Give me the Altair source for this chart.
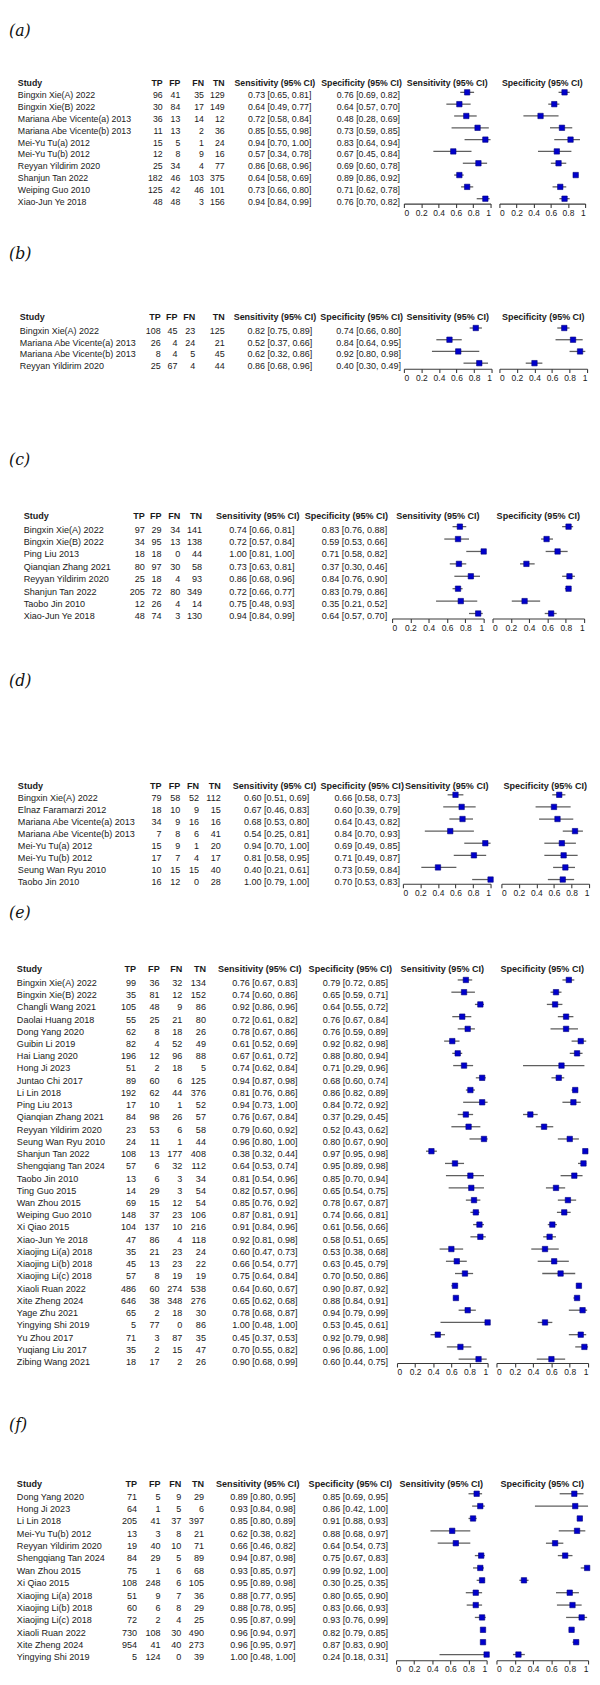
import altair as alt
import pandas as pd

FONT = "Liberation Sans"

# ---------------- data ----------------
A_STUDY = ["Bingxin Xie(A) 2022", "Bingxin Xie(B) 2022", "Mariana Abe Vicente(a) 2013",
           "Mariana Abe Vicente(b) 2013", "Mei-Yu Tu(a) 2012", "Mei-Yu Tu(b) 2012",
           "Reyyan Yildirim 2020", "Shanjun Tan 2022", "Weiping Guo 2010", "Xiao-Jun Ye 2018"]
A_TP = [96, 30, 36, 11, 15, 12, 25, 182, 125, 48]
A_FP = [41, 84, 13, 13, 5, 8, 34, 46, 42, 48]
A_FN = [35, 17, 14, 2, 1, 9, 4, 103, 46, 3]
A_TN = [129, 149, 12, 36, 24, 16, 77, 375, 101, 156]
A_SENS = [(0.73, 0.65, 0.81), (0.64, 0.49, 0.77), (0.72, 0.58, 0.84), (0.85, 0.55, 0.98),
          (0.94, 0.70, 1.00), (0.57, 0.34, 0.78), (0.86, 0.68, 0.96), (0.64, 0.58, 0.69),
          (0.73, 0.66, 0.80), (0.94, 0.84, 0.99)]
A_SPEC = [(0.76, 0.69, 0.82), (0.64, 0.57, 0.70), (0.48, 0.28, 0.69), (0.73, 0.59, 0.85),
          (0.83, 0.64, 0.94), (0.67, 0.45, 0.84), (0.69, 0.60, 0.78), (0.89, 0.86, 0.92),
          (0.71, 0.62, 0.78), (0.76, 0.70, 0.82)]

B_STUDY = ["Bingxin Xie(A) 2022", "Mariana Abe Vicente(a) 2013", "Mariana Abe Vicente(b) 2013",
           "Reyyan Yildirim 2020"]
B_TP = [108, 26, 8, 25]
B_FP = [45, 4, 4, 67]
B_FN = [23, 24, 5, 4]
B_TN = [125, 21, 45, 44]
B_SENS = [(0.82, 0.75, 0.89), (0.52, 0.37, 0.66), (0.62, 0.32, 0.86), (0.86, 0.68, 0.96)]
B_SPEC = [(0.74, 0.66, 0.80), (0.84, 0.64, 0.95), (0.92, 0.80, 0.98), (0.40, 0.30, 0.49)]

C_STUDY = ["Bingxin Xie(A) 2022", "Bingxin Xie(B) 2022", "Ping Liu  2013", "Qianqian Zhang 2021",
           "Reyyan Yildirim 2020", "Shanjun Tan 2022", "Taobo Jin 2010", "Xiao-Jun Ye 2018"]
C_TP = [97, 34, 18, 80, 25, 205, 12, 48]
C_FP = [29, 95, 18, 97, 18, 72, 26, 74]
C_FN = [34, 13, 0, 30, 4, 80, 4, 3]
C_TN = [141, 138, 44, 58, 93, 349, 14, 130]
C_SENS = [(0.74, 0.66, 0.81), (0.72, 0.57, 0.84), (1.00, 0.81, 1.00), (0.73, 0.63, 0.81),
          (0.86, 0.68, 0.96), (0.72, 0.66, 0.77), (0.75, 0.48, 0.93), (0.94, 0.84, 0.99)]
C_SPEC = [(0.83, 0.76, 0.88), (0.59, 0.53, 0.66), (0.71, 0.58, 0.82), (0.37, 0.30, 0.46),
          (0.84, 0.76, 0.90), (0.83, 0.79, 0.86), (0.35, 0.21, 0.52), (0.64, 0.57, 0.70)]

D_STUDY = ["Bingxin Xie(A) 2022", "Elnaz Faramarzi 2012", "Mariana Abe Vicente(a) 2013",
           "Mariana Abe Vicente(b) 2013", "Mei-Yu Tu(a) 2012", "Mei-Yu Tu(b) 2012",
           "Seung Wan Ryu 2010", "Taobo Jin  2010"]
D_TP = [79, 18, 34, 7, 15, 17, 10, 16]
D_FP = [58, 10, 9, 8, 9, 7, 15, 12]
D_FN = [52, 9, 16, 6, 1, 4, 15, 0]
D_TN = [112, 15, 16, 41, 20, 17, 40, 28]
D_SENS = [(0.60, 0.51, 0.69), (0.67, 0.46, 0.83), (0.68, 0.53, 0.80), (0.54, 0.25, 0.81),
          (0.94, 0.70, 1.00), (0.81, 0.58, 0.95), (0.40, 0.21, 0.61), (1.00, 0.79, 1.00)]
D_SPEC = [(0.66, 0.58, 0.73), (0.60, 0.39, 0.79), (0.64, 0.43, 0.82), (0.84, 0.70, 0.93),
          (0.69, 0.49, 0.85), (0.71, 0.49, 0.87), (0.73, 0.59, 0.84), (0.70, 0.53, 0.83)]

E_STUDY = ["Bingxin Xie(A) 2022", "Bingxin Xie(B) 2022", "Changli Wang 2021", "Daolai Huang 2018",
           "Dong Yang 2020", "Guibin Li 2019", "Hai Liang  2020", "Hong Ji 2023", "Juntao Chi 2017",
           "Li Lin 2018", "Ping Liu 2013", "Qianqian Zhang 2021", "Reyyan Yildirim 2020",
           "Seung Wan Ryu 2010", "Shanjun Tan 2022", "Shengqiang Tan 2024", "Taobo Jin 2010",
           "Ting Guo 2015", "Wan Zhou 2015", "Weiping Guo 2010", "Xi Qiao 2015", "Xiao-Jun Ye 2018",
           "Xiaojing Li(a) 2018", "Xiaojing Li(b) 2018", "Xiaojing Li(c) 2018", "Xiaoli Ruan 2022",
           "Xite Zheng 2024", "Yage Zhu 2021", "Yingying Shi  2019", "Yu Zhou 2017",
           "Yuqiang Liu 2017", "Zibing Wang 2021"]
E_TP = [99, 35, 105, 55, 62, 82, 196, 51, 89, 192, 17, 84, 23, 24, 108, 57, 13, 14, 69, 148,
        104, 47, 35, 45, 57, 486, 646, 65, 5, 71, 35, 18]
E_FP = [36, 81, 48, 25, 8, 4, 12, 2, 60, 62, 10, 98, 53, 11, 13, 6, 6, 29, 15, 37,
        137, 86, 21, 13, 8, 60, 38, 2, 77, 3, 2, 17]
E_FN = [32, 12, 9, 21, 18, 52, 96, 18, 6, 44, 1, 26, 6, 1, 177, 32, 3, 3, 12, 23,
        10, 4, 23, 23, 19, 274, 348, 18, 0, 87, 15, 2]
E_TN = [134, 152, 86, 80, 26, 49, 88, 5, 125, 376, 52, 57, 58, 44, 408, 112, 34, 54, 54, 106,
        216, 118, 24, 22, 19, 538, 276, 30, 86, 35, 47, 26]
E_SENS = [(0.76, 0.67, 0.83), (0.74, 0.60, 0.86), (0.92, 0.86, 0.96), (0.72, 0.61, 0.82),
          (0.78, 0.67, 0.86), (0.61, 0.52, 0.69), (0.67, 0.61, 0.72), (0.74, 0.62, 0.84),
          (0.94, 0.87, 0.98), (0.81, 0.76, 0.86), (0.94, 0.73, 1.00), (0.76, 0.67, 0.84),
          (0.79, 0.60, 0.92), (0.96, 0.80, 1.00), (0.38, 0.32, 0.44), (0.64, 0.53, 0.74),
          (0.81, 0.54, 0.96), (0.82, 0.57, 0.96), (0.85, 0.76, 0.92), (0.87, 0.81, 0.91),
          (0.91, 0.84, 0.96), (0.92, 0.81, 0.98), (0.60, 0.47, 0.73), (0.66, 0.54, 0.77),
          (0.75, 0.64, 0.84), (0.64, 0.60, 0.67), (0.65, 0.62, 0.68), (0.78, 0.68, 0.87),
          (1.00, 0.48, 1.00), (0.45, 0.37, 0.53), (0.70, 0.55, 0.82), (0.90, 0.68, 0.99)]
E_SPEC = [(0.79, 0.72, 0.85), (0.65, 0.59, 0.71), (0.64, 0.55, 0.72), (0.76, 0.67, 0.84),
          (0.76, 0.59, 0.89), (0.92, 0.82, 0.98), (0.88, 0.80, 0.94), (0.71, 0.29, 0.96),
          (0.68, 0.60, 0.74), (0.86, 0.82, 0.89), (0.84, 0.72, 0.92), (0.37, 0.29, 0.45),
          (0.52, 0.43, 0.62), (0.80, 0.67, 0.90), (0.97, 0.95, 0.98), (0.95, 0.89, 0.98),
          (0.85, 0.70, 0.94), (0.65, 0.54, 0.75), (0.78, 0.67, 0.87), (0.74, 0.66, 0.81),
          (0.61, 0.56, 0.66), (0.58, 0.51, 0.65), (0.53, 0.38, 0.68), (0.63, 0.45, 0.79),
          (0.70, 0.50, 0.86), (0.90, 0.87, 0.92), (0.88, 0.84, 0.91), (0.94, 0.79, 0.99),
          (0.53, 0.45, 0.61), (0.92, 0.79, 0.98), (0.96, 0.86, 1.00), (0.60, 0.44, 0.75)]

F_STUDY = ["Dong Yang 2020", "Hong Ji  2023", "Li Lin 2018", "Mei-Yu Tu(b) 2012",
           "Reyyan Yildirim 2020", "Shengqiang Tan 2024", "Wan Zhou 2015", "Xi Qiao 2015",
           "Xiaojing Li(a) 2018", "Xiaojing Li(b) 2018", "Xiaojing Li(c) 2018", "Xiaoli Ruan 2022",
           "Xite Zheng 2024", "Yingying Shi  2019"]
F_TP = [71, 64, 205, 13, 19, 84, 75, 108, 51, 60, 72, 730, 954, 5]
F_FP = [5, 1, 41, 3, 40, 29, 1, 248, 9, 6, 2, 108, 41, 124]
F_FN = [9, 5, 37, 8, 10, 5, 6, 6, 7, 8, 4, 30, 40, 0]
F_TN = [29, 6, 397, 21, 71, 89, 68, 105, 36, 29, 25, 490, 273, 39]
F_SENS = [(0.89, 0.80, 0.95), (0.93, 0.84, 0.98), (0.85, 0.80, 0.89), (0.62, 0.38, 0.82),
          (0.66, 0.46, 0.82), (0.94, 0.87, 0.98), (0.93, 0.85, 0.97), (0.95, 0.89, 0.98),
          (0.88, 0.77, 0.95), (0.88, 0.78, 0.95), (0.95, 0.87, 0.99), (0.96, 0.94, 0.97),
          (0.96, 0.95, 0.97), (1.00, 0.48, 1.00)]
F_SPEC = [(0.85, 0.69, 0.95), (0.86, 0.42, 1.00), (0.91, 0.88, 0.93), (0.88, 0.68, 0.97),
          (0.64, 0.54, 0.73), (0.75, 0.67, 0.83), (0.99, 0.92, 1.00), (0.30, 0.25, 0.35),
          (0.80, 0.65, 0.90), (0.83, 0.66, 0.93), (0.93, 0.76, 0.99), (0.82, 0.79, 0.85),
          (0.87, 0.83, 0.90), (0.24, 0.18, 0.31)]

PANELS = [
    ("a", A_STUDY, A_TP, A_FP, A_FN, A_TN, A_SENS, A_SPEC),
    ("b", B_STUDY, B_TP, B_FP, B_FN, B_TN, B_SENS, B_SPEC),
    ("c", C_STUDY, C_TP, C_FP, C_FN, C_TN, C_SENS, C_SPEC),
    ("d", D_STUDY, D_TP, D_FP, D_FN, D_TN, D_SENS, D_SPEC),
    ("e", E_STUDY, E_TP, E_FP, E_FN, E_TN, E_SENS, E_SPEC),
    ("f", F_STUDY, F_TP, F_FP, F_FN, F_TN, F_SENS, F_SPEC),
]

HEADERS = ["TP", "FP", "FN", "TN", "Sensitivity (95% CI)", "Specificity (95% CI)"]
COLS = ["TP", "FP", "FN", "TN", "sens_txt", "spec_txt"]

# ---------------- layout (page pixels) ----------------
LAYOUT = {
    "a": dict(label_y=12, header_y=70.7, row1_y=82.7, step=12.0, axis_y=192.7, fs=8.9, study_x=17,
              col_x=[164, 182, 206, 227, 315, 405], hdr_x=[164, 182, 206, 227, 319, 407],
              sens_ax=(409, 497), spec_ax=(506, 593)),
    "b": dict(label_y=243.3, header_y=307.7, row1_y=321.7, step=11.9, axis_y=360, fs=9.1, study_x=19,
              col_x=[162, 179, 197, 227, 316, 406], hdr_x=[162, 179, 197, 227, 320, 408],
              sens_ax=(409, 498), spec_ax=(506, 595)),
    "c": dict(label_y=451.7, header_y=509.3, row1_y=522.7, step=12.6, axis_y=613, fs=9.2, study_x=23,
              col_x=[146, 163, 182, 204, 298, 392], hdr_x=[146, 163, 182, 204, 303, 393],
              sens_ax=(397, 490), spec_ax=(499, 592)),
    "d": dict(label_y=676.7, header_y=782.7, row1_y=795, step=12.29, axis_y=882.3, fs=9.2, study_x=17,
              col_x=[163, 182, 201, 223, 313, 405], hdr_x=[163, 182, 201, 223, 320, 409],
              sens_ax=(408, 497), spec_ax=(508, 597)),
    "e": dict(label_y=911.7, header_y=968.3, row1_y=982.3, step=12.42, axis_y=1368.3, fs=9.2, study_x=16,
              col_x=[137, 161, 184, 208, 301, 393], hdr_x=[137, 161, 184, 208, 305, 397],
              sens_ax=(402, 494), spec_ax=(503, 596)),
    "f": dict(label_y=1431, header_y=1490.7, row1_y=1504, step=12.56, axis_y=1670, fs=9.2, study_x=16,
              col_x=[138, 162, 183, 206, 299, 393], hdr_x=[138, 162, 183, 206, 303, 397],
              sens_ax=(401, 493), spec_ax=(503, 596)),
}
ORIGIN = 8        # page margin
PANEL_W = 590
MARK_SHIFT = -3   # forest marks sit slightly above the text rows
TXT = "#1a1a1a"


def ci_txt(t):
    return f"{t[0]:.2f} [{t[1]:.2f}, {t[2]:.2f}]"


def build_panel(key, study, tp, fp, fn, tn, sens, spec, top):
    L = LAYOUT[key]
    n = len(study)
    step = L["step"]

    def ry(y):
        return 1 + (y - L["row1_y"]) / step

    height = L["axis_y"] - top
    yscale = alt.Scale(domain=[ry(top), ry(L["axis_y"])], reverse=True, nice=False, zero=False)
    Y = alt.Y("r:Q", scale=yscale, axis=None)

    df = pd.DataFrame({
        "r": list(range(1, n + 1)),
        "study": study,
        "TP": [str(v) for v in tp], "FP": [str(v) for v in fp],
        "FN": [str(v) for v in fn], "TN": [str(v) for v in tn],
        "sens_txt": [ci_txt(t) for t in sens], "spec_txt": [ci_txt(t) for t in spec],
        "sens_e": [t[0] for t in sens], "sens_l": [t[1] for t in sens], "sens_h": [t[2] for t in sens],
        "spec_e": [t[0] for t in spec], "spec_l": [t[1] for t in spec], "spec_h": [t[2] for t in spec],
    })
    hr = ry(L["header_y"])
    fs = L["fs"]

    layers = []
    lab_y = max(L["label_y"], top + 9)
    lab = pd.DataFrame({"r": [ry(lab_y)], "t": [f"({key})"]})
    layers.append(alt.Chart(lab).mark_text(align="left", baseline="middle", font="DejaVu Serif",
                                           fontStyle="italic", fontSize=16, color="#111")
                  .encode(x=alt.value(0), y=Y, text="t:N"))
    hdr_df = pd.DataFrame({"r": [hr], "t": ["Study"]})
    layers.append(alt.Chart(hdr_df).mark_text(align="left", baseline="middle", font=FONT, fontSize=fs,
                                              fontWeight="bold", color=TXT)
                  .encode(x=alt.value(L["study_x"] - ORIGIN), y=Y, text="t:N"))
    layers.append(alt.Chart(df).mark_text(align="left", baseline="middle", font=FONT, fontSize=fs, color=TXT)
                  .encode(x=alt.value(L["study_x"] - ORIGIN), y=Y, text="study:N"))
    for h, c, cx, hx in zip(HEADERS, COLS, L["col_x"], L["hdr_x"]):
        hd = pd.DataFrame({"r": [hr], "t": [h]})
        layers.append(alt.Chart(hd).mark_text(align="right", baseline="middle", font=FONT, fontSize=fs,
                                              fontWeight="bold", color=TXT)
                      .encode(x=alt.value(hx - ORIGIN), y=Y, text="t:N"))
        layers.append(alt.Chart(df).mark_text(align="right", baseline="middle", font=FONT, fontSize=fs,
                                              color=TXT)
                      .encode(x=alt.value(cx - ORIGIN), y=Y, text=f"{c}:N"))

    def forest(prefix, title, ax):
        xs = alt.Scale(domain=[0, 1], range=[ax[0] - ORIGIN, ax[1] - ORIGIN], nice=False, zero=False)
        xa = alt.Axis(values=[0, 0.2, 0.4, 0.6, 0.8, 1], format="~g", title=None, orient="bottom",
                      grid=False, labelFont=FONT, labelFontSize=8.6, labelColor=TXT, labelPadding=1,
                      tickSize=4, tickColor="#3a3a3a", domainColor="#3a3a3a", domainWidth=1.1,
                      tickWidth=1.1)
        base = alt.Chart(df)
        rule = base.mark_rule(color="#5f5f5f", strokeWidth=1.3, yOffset=MARK_SHIFT).encode(
            x=alt.X(f"{prefix}_l:Q", scale=xs, axis=xa), x2=f"{prefix}_h:Q", y=Y)
        pts = base.mark_square(size=30, filled=True, fill="#0000cc", stroke="#00007a",
                               strokeWidth=0.6, opacity=1, yOffset=MARK_SHIFT).encode(
            x=alt.X(f"{prefix}_e:Q", scale=xs, axis=xa), y=Y)
        hd = pd.DataFrame({"r": [hr], "x": [0.5], "t": [title]})
        head = alt.Chart(hd).mark_text(align="center", baseline="middle", font=FONT, fontSize=fs,
                                       fontWeight="bold", color=TXT).encode(
            x=alt.X("x:Q", scale=xs, axis=xa), y=Y, text="t:N")
        return alt.layer(rule, pts, head)

    s_layer = forest("sens", "Sensitivity (95% CI)", L["sens_ax"])
    p_layer = forest("spec", "Specificity (95% CI)", L["spec_ax"])
    panel = (alt.layer(*layers, s_layer, p_layer)
             .resolve_scale(x="independent")
             .resolve_axis(x="independent")
             .properties(width=PANEL_W, height=height))
    return panel, L["axis_y"]


panels = []
top = ORIGIN
for p in PANELS:
    ch, top = build_panel(*p, top)
    panels.append(ch)

chart = alt.vconcat(*panels, spacing=0, bounds="flush").properties(padding=0).configure_view(
    stroke="transparent")

chart.save("out.html", embed_options={"renderer": "svg", "actions": False})
